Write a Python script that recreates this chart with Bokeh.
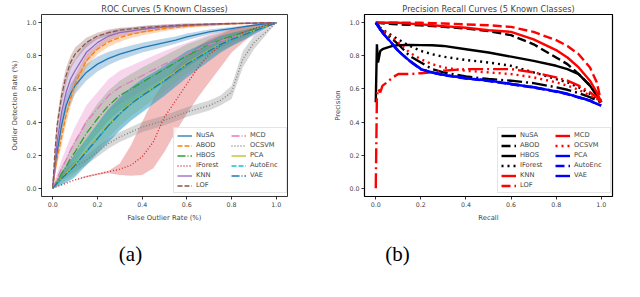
import numpy as np
from bokeh.plotting import figure
from bokeh.layouts import row, column
from bokeh.models import Legend, LegendItem, Label, Range1d, FixedTicker, NumeralTickFormatter
from bokeh.embed import file_html
from bokeh.resources import INLINE

# ---------------- data: ROC (mean curves and band half-widths) ----------------
fpr = [0, .01, .02, .04, .06, .08, .1, .15, .2, .25, .3, .35, .4, .45, .5, .55, .6, .65, .7, .75, .8, .85, .9, .95, 1]

roc_nusa = [0, .12, .22, .38, .50, .57, .62, .70, .75, .785, .81, .83, .85, .865, .88, .895, .915, .93, .945, .955, .965, .975, .985, .993, 1]
sd_nusa = [0, .03, .04, .06, .06, .06, .05, .05, .045, .04, .035, .032, .03, .028, .025, .022, .02, .018, .015, .012, .01, .008, .005, .003, 0]
roc_abod = [0, .10, .18, .31, .44, .54, .63, .77, .84, .885, .91, .93, .945, .955, .965, .972, .978, .983, .987, .99, .993, .995, .997, .999, 1]
sd_abod = [0, .03, .04, .05, .05, .05, .05, .04, .03, .03, .025, .022, .02, .018, .015, .012, .01, .01, .01, .007, .005, .004, .003, .002, 0]
roc_hbos = [0, .02, .04, .09, .13, .18, .22, .33, .42, .50, .56, .60, .64, .68, .72, .76, .80, .835, .87, .895, .92, .94, .96, .98, 1]
sd_hbos = [0, .01, .02, .04, .05, .06, .07, .08, .09, .09, .09, .09, .09, .085, .08, .075, .07, .06, .05, .045, .04, .03, .02, .01, 0]
roc_iforest = [0, .005, .01, .02, .03, .04, .05, .07, .085, .10, .115, .14, .19, .28, .43, .53, .63, .73, .81, .86, .91, .94, .965, .985, 1]
lo_iforest = [0, .005, .01, .02, .03, .04, .05, .065, .08, .09, .08, .075, .08, .12, .22, .34, .45, .55, .64, .73, .82, .88, .94, .98, 1]
hi_iforest = [0, .005, .01, .02, .03, .04, .05, .075, .09, .105, .15, .26, .40, .54, .65, .73, .80, .86, .90, .93, .96, .975, .99, .995, 1]
roc_knn = [0, .15, .28, .46, .58, .66, .71, .82, .88, .92, .94, .95, .96, .968, .975, .98, .985, .988, .99, .993, .995, .996, .998, .999, 1]
sd_knn = [0, .04, .06, .08, .08, .08, .07, .06, .04, .03, .025, .02, .02, .018, .015, .012, .01, .008, .007, .006, .005, .004, .003, .002, 0]
roc_lof = [0, .22, .38, .56, .68, .76, .81, .88, .92, .94, .955, .963, .97, .975, .98, .984, .987, .99, .992, .994, .996, .997, .998, .999, 1]
sd_lof = [0, .04, .05, .05, .05, .04, .04, .03, .02, .02, .015, .012, .01, .01, .01, .008, .008, .006, .005, .005, .004, .003, .002, .001, 0]
roc_mcd = [0, .03, .06, .12, .17, .23, .28, .40, .48, .56, .61, .645, .68, .715, .75, .78, .81, .84, .87, .89, .91, .93, .95, .975, 1]
sd_mcd = [0, .02, .03, .05, .07, .08, .09, .1, .1, .1, .1, .095, .09, .085, .08, .075, .07, .065, .06, .055, .05, .04, .03, .015, 0]
roc_ocsvm = [0, .02, .04, .07, .09, .115, .13, .17, .22, .27, .31, .34, .37, .39, .41, .435, .46, .48, .50, .53, .58, .78, .88, .94, 1]
sd_ocsvm = [0, .01, .015, .02, .025, .03, .03, .03, .03, .03, .03, .03, .03, .03, .03, .03, .03, .03, .03, .03, .04, .05, .04, .02, 0]
roc_pca = [0, .015, .03, .06, .09, .115, .145, .225, .305, .385, .455, .515, .565, .61, .655, .705, .755, .795, .835, .872, .902, .927, .952, .976, 1]
sd_pca = [0, .01, .02, .03, .04, .05, .06, .07, .08, .08, .08, .08, .08, .075, .07, .065, .06, .055, .05, .045, .04, .03, .02, .01, 0]
roc_autoenc = [0, .014, .029, .058, .083, .108, .138, .218, .298, .378, .448, .508, .558, .603, .648, .698, .748, .788, .828, .868, .898, .923, .948, .974, 1]
sd_autoenc = [0, .01, .02, .04, .05, .06, .07, .08, .09, .1, .1, .1, .1, .095, .09, .085, .08, .07, .06, .05, .04, .03, .02, .01, 0]
roc_vae = [0, .015, .03, .06, .085, .11, .14, .22, .30, .38, .45, .51, .56, .605, .65, .70, .75, .79, .83, .87, .90, .925, .95, .975, 1]
sd_vae = [0, .01, .02, .04, .05, .06, .07, .08, .09, .1, .1, .1, .1, .095, .09, .085, .08, .07, .06, .05, .04, .03, .02, .01, 0]

# ---------------- data: Precision-Recall ----------------
recall = [0, .005, .01, .02, .03, .05, .075, .1, .15, .2, .25, .3, .4, .5, .6, .7, .8, .85, .9, .95, .98, 1]
pr_nusa = [.52, .87, .76, .83, .84, .85, .86, .865, .866, .865, .864, .86, .84, .82, .795, .77, .74, .72, .69, .62, .56, .52]
pr_abod = [1, 1, 1, .998, .997, .995, .993, .99, .988, .985, .98, .975, .965, .95, .925, .87, .79, .75, .69, .62, .57, .52]
pr_hbos = [1, .995, .99, .96, .95, .93, .90, .87, .80, .76, .72, .70, .675, .66, .65, .635, .61, .595, .575, .55, .53, .52]
pr_iforest = [1, .995, .99, .97, .96, .94, .92, .90, .86, .83, .81, .795, .775, .76, .74, .70, .66, .64, .61, .57, .54, .52]
pr_knn = [1, 1, 1, 1, 1, 1, 1, 1, .995, .99, .985, .98, .97, .955, .945, .90, .835, .79, .73, .65, .58, .52]
pr_lof = [1, 1, 1, 1, 1, 1, 1, 1, 1, 1, .998, .996, .99, .985, .975, .945, .895, .86, .81, .73, .64, .52]
pr_mcd = [0, .55, .60, .58, .62, .64, .67, .69, .69, .695, .70, .71, .72, .72, .72, .70, .67, .65, .62, .58, .55, .52]
pr_ocsvm = [1, .99, .985, .965, .955, .935, .91, .88, .82, .78, .75, .73, .71, .70, .69, .67, .64, .62, .595, .56, .54, .52]
pr_pca = [1, .99, .98, .96, .94, .91, .87, .83, .77, .72, .70, .685, .665, .65, .63, .61, .585, .57, .55, .53, .51, .50]
pr_autoenc = [1, .99, .98, .958, .938, .908, .868, .828, .768, .718, .698, .683, .663, .648, .628, .608, .583, .568, .548, .528, .508, .50]
pr_vae = [1, .99, .98, .96, .94, .91, .87, .83, .77, .722, .70, .686, .666, .651, .631, .611, .586, .571, .551, .531, .511, .50]

methods = ["NuSA", "ABOD", "HBOS", "IForest", "KNN", "LOF", "MCD", "OCSVM", "PCA", "AutoEnc", "VAE"]
tick_vals = [0.0, 0.2, 0.4, 0.6, 0.8, 1.0]

roc_means = [roc_nusa, roc_abod, roc_hbos, roc_iforest, roc_knn, roc_lof, roc_mcd, roc_ocsvm, roc_pca, roc_autoenc, roc_vae]
roc_sds = [sd_nusa, sd_abod, sd_hbos, None, sd_knn, sd_lof, sd_mcd, sd_ocsvm, sd_pca, sd_autoenc, sd_vae]
pr_vals = [pr_nusa, pr_abod, pr_hbos, pr_iforest, pr_knn, pr_lof, pr_mcd, pr_ocsvm, pr_pca, pr_autoenc, pr_vae]

roc_colors = ["#1f77b4", "#ff7f0e", "#2ca02c", "#d62728", "#9467bd", "#8c564b",
              "#e377c2", "#7f7f7f", "#bcbd22", "#17becf", "#1f77b4"]
styles = ["solid", "dashed", "dashdot", "dotted", "solid", "dashed",
          "dashdot", "dotted", "solid", "dashed", "dashdot"]
roc_dash = {"solid": "solid", "dashed": "5 2", "dashdot": "8 2 1 2", "dotted": "1 2"}
pr_dash = {"solid": "solid", "dashed": "9 4", "dashdot": "15 4 2 4", "dotted": "2 4"}
pr_colors = ["black"] * 4 + ["red"] * 4 + ["blue"] * 3

FONT = "DejaVu Sans"


def style_fig(p, xlabel, ylabel):
    p.xaxis.axis_label = xlabel
    p.yaxis.axis_label = ylabel
    for ax in (p.xaxis[0], p.yaxis[0]):
        ax.ticker = FixedTicker(ticks=tick_vals)
        ax.formatter = NumeralTickFormatter(format="0.0")
        ax.axis_line_color = None
        ax.major_tick_out = 3
        ax.major_tick_in = 0
        ax.major_tick_line_width = 0.8
        ax.minor_tick_line_color = None
        ax.major_label_text_font = FONT
        ax.major_label_text_font_size = "6.3px"
        ax.major_label_standoff = 2
        ax.axis_label_text_font = FONT
        ax.axis_label_text_font_size = "6.8px"
        ax.axis_label_text_font_style = "normal"
        ax.axis_label_standoff = 4
    p.grid.visible = False
    p.outline_line_color = "black"
    p.outline_line_width = 0.8
    p.outline_line_alpha = 1
    p.title.text_font = FONT
    p.title.text_font_size = "8.2px"
    p.title.text_font_style = "normal"
    p.title.align = "center"
    p.title.standoff = 2


def make_legend(items, loc):
    lg = Legend(items=items, location=loc, ncols=2,
                label_text_font=FONT, label_text_font_size="6.7px",
                glyph_width=15, glyph_height=7, label_height=7, label_width=33,
                label_standoff=4, spacing=2, padding=3, margin=0,
                border_line_color="#cccccc", border_line_width=0.8,
                background_fill_alpha=0.8)
    return lg


# ---------------- ROC figure ----------------
p1 = figure(frame_width=246, frame_height=182, min_border_left=41, min_border_right=33,
            min_border_top=12, min_border_bottom=36,
            x_range=Range1d(-0.05, 1.05), y_range=Range1d(-0.05, 1.05),
            toolbar_location=None, output_backend="svg",
            title="ROC Curves (5 Known Classes)")
style_fig(p1, "False Outlier Rate (%)", "Outlier Detection Rate (%)")

x = np.array(fpr)
for i, name in enumerate(methods):
    m = np.array(roc_means[i])
    if roc_sds[i] is None:
        lo, hi = np.array(lo_iforest), np.array(hi_iforest)
    else:
        s = np.array(roc_sds[i])
        lo, hi = np.clip(m - s, 0, 1), np.clip(m + s, 0, 1)
    p1.varea(x=x, y1=lo, y2=hi, fill_color=roc_colors[i], fill_alpha=0.3)

roc_items = []
for i, name in enumerate(methods):
    r = p1.line(x, roc_means[i], line_color=roc_colors[i], line_width=1.3,
                line_dash=roc_dash[styles[i]])
    roc_items.append(LegendItem(label=name, renderers=[r]))
p1.add_layout(make_legend(roc_items, (132, 3)))

# ---------------- PR figure ----------------
p2 = figure(frame_width=248, frame_height=182, min_border_left=44, min_border_right=28,
            min_border_top=12, min_border_bottom=36,
            x_range=Range1d(-0.05, 1.05), y_range=Range1d(-0.05, 1.05),
            toolbar_location=None, output_backend="svg",
            title="Precision Recall Curves (5 Known Classes)")
style_fig(p2, "Recall", "Precision")
p2.outline_line_width = 1.2

pr_items = []
for i, name in enumerate(methods):
    r = p2.line(recall, pr_vals[i], line_color=pr_colors[i], line_width=2.4,
                line_dash=pr_dash[styles[i]])
    pr_items.append(LegendItem(label=name, renderers=[r]))
p2.add_layout(make_legend(pr_items, (133, 3)))

# ---------------- caption strip ----------------
p3 = figure(frame_width=640, frame_height=67, min_border=0,
            x_range=Range1d(0, 640), y_range=Range1d(0, 67),
            x_axis_type=None, y_axis_type=None,
            toolbar_location=None, output_backend="svg")
p3.grid.visible = False
p3.outline_line_color = None
SERIF = "Liberation Serif"
p3.add_layout(Label(x=130, y=46, text="(a)", text_align="center", text_baseline="middle",
                    text_font=SERIF, text_font_size="21px", text_color="black"))
p3.add_layout(Label(x=397, y=46, text="(b)", text_align="center", text_baseline="middle",
                    text_font=SERIF, text_font_size="21px", text_color="black"))
p3.add_layout(Label(x=0, y=5, text="Figure 3: (a) Average ROC curves for each of the methods.",
                    text_align="left", text_baseline="top",
                    text_font=SERIF, text_font_size="21px", text_color="black"))
p3.add_layout(Label(x=627, y=5, text="(b)", text_align="center", text_baseline="top",
                    text_font=SERIF, text_font_size="21px", text_color="black"))

layout = column(row(p1, p2, spacing=0), p3, spacing=0)

open("out.html", "w").write(file_html(layout, INLINE))
